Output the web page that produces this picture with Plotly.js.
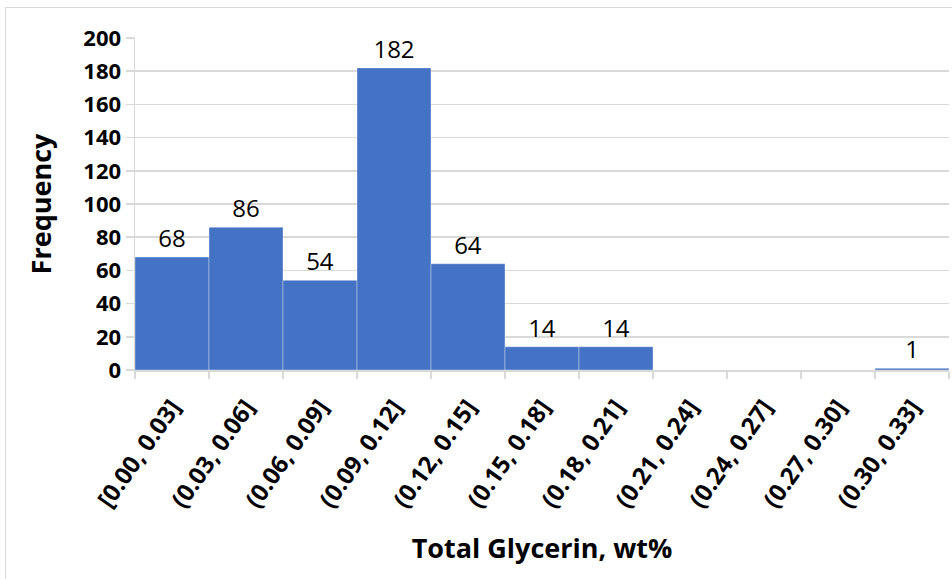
<!DOCTYPE html>
<html>
<head>
<meta charset="utf-8">
<script src="https://cdn.plot.ly/plotly-3.0.1.min.js"></script>
<style>
  html, body { margin: 0; padding: 0; background: #fff; overflow: hidden; }
  #chart { width: 952px; height: 579px; }
  #frame { position: absolute; left: 5px; top: 7px; width: 1200px; height: 1200px;
           border: 1.5px solid #d9d9d9; pointer-events: none; box-sizing: border-box; }
</style>
</head>
<body>
<div id="chart"></div>
<div id="frame"></div>
<script>
const bins = ["[0.00, 0.03]", "(0.03, 0.06]", "(0.06, 0.09]", "(0.09, 0.12]", "(0.12, 0.15]",
              "(0.15, 0.18]", "(0.18, 0.21]", "(0.21, 0.24]", "(0.24, 0.27]", "(0.27, 0.30]", "(0.30, 0.33]"];
const frequency = [68, 86, 54, 182, 64, 14, 14, 0, 0, 0, 1];
const yTicks = [0, 20, 40, 60, 80, 100, 120, 140, 160, 180, 200];

const labels = frequency.map(v => v > 0 ? String(v) : "");

const FONT = "'Open Sans', 'Noto Sans', sans-serif";

const trace = {
  type: "bar",
  x: bins,
  y: frequency,
  text: labels,
  textposition: "outside",
  texttemplate: "%{text}",
  textfont: { family: FONT, size: 24, color: "#000" },
  cliponaxis: false,
  marker: { color: "#4472C4", line: { color: "rgba(255,255,255,0.35)", width: 1 } },
  hoverinfo: "x+y"
};

const layout = {
  width: 952, height: 579,
  margin: { l: 135, r: 3, t: 38, b: 209 },
  paper_bgcolor: "#fff", plot_bgcolor: "#fff",
  bargap: 0,
  showlegend: false,
  font: { family: FONT, color: "#000" },
  xaxis: {
    type: "category",
    tickangle: -55,
    tickson: "boundaries",
    ticks: "outside", ticklen: 7, tickcolor: "#d9d9d9", tickwidth: 1.5,
    ticklabelstandoff: 12,
    showline: true, linecolor: "#d9d9d9", linewidth: 1.5,
    showgrid: false,
    tickfont: { family: FONT, size: 24, color: "#000", weight: "bold" },
    title: { text: "Total Glycerin, wt%", font: { family: FONT, size: 27, color: "#000", weight: "bold" }, standoff: 26 },
    automargin: false
  },
  yaxis: {
    range: [0, 200],
    tickvals: yTicks,
    ticktext: yTicks.map(String),
    ticks: "outside", ticklen: 8, tickcolor: "#d9d9d9", tickwidth: 1.5,
    showline: true, linecolor: "#d9d9d9", linewidth: 1.5,
    showgrid: true, gridcolor: "#d9d9d9", gridwidth: 1.5,
    zeroline: false,
    tickfont: { family: FONT, size: 22, color: "#000", weight: "bold" },
    title: { text: "Frequency", font: { family: FONT, size: 27, color: "#000", weight: "bold" }, standoff: 24 },
    automargin: false
  }
};

Plotly.newPlot("chart", [trace], layout, { staticPlot: true, displayModeBar: false });
</script>
</body>
</html>
